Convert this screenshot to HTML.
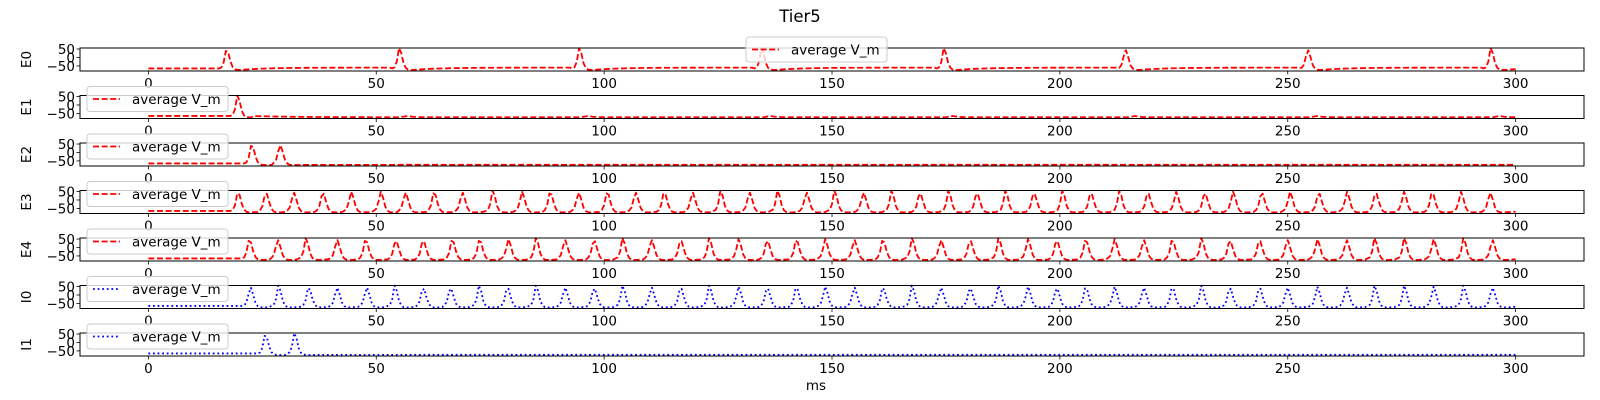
<!DOCTYPE html>
<html><head><meta charset="utf-8"><style>
html,body{margin:0;padding:0;background:#fff;}
svg{display:block;font-family:"DejaVu Sans","Liberation Sans",sans-serif;}
</style></head><body>
<svg id="fig" width="1600" height="400" viewBox="0 0 1600 400">
<text x="800" y="22" text-anchor="middle" font-size="16.5">Tier5</text>
<text x="816" y="390" text-anchor="middle" font-size="13.5">ms</text>
</svg>
<script>
const panelNames = ["E0","E1","E2","E3","E4","I0","I1"];
const panelColors = ["red","red","red","red","red","blue","blue"];
const xTicks = [0,50,100,150,200,250,300];
const yTicks = [50,0,-50];
const spikesE0 = [17.1,55,94.5,134.5,174.5,214.3,254.3,294.5];
const spikesE1 = [19.5];
const bumpsE1 = [56.4,96,136,176,216,256,296];
const spikesE2 = [22.6,28.8];
const spikesE3 = [19.6,25.7,31.8,38.2,44.4,50.9,56.3,62.6,68.8,75.5,81.9,88.1,94.3,100.6,106.8,113.1,119.3,125.5,131.8,138.0,144.3,150.5,156.8,163.0,169.2,175.5,181.7,188.0,194.2,200.5,206.7,213.0,219.2,225.4,231.7,237.9,244.2,250.4,256.7,262.9,269.2,275.4,281.6,287.9,294.3];
const spikesE4 = [22.1,28.3,34.5,41.3,47.6,54.2,60.2,66.6,72.6,78.9,85.0,91.3,97.7,104.0,110.3,116.7,123.0,129.4,135.7,142.1,148.4,154.8,161.1,167.5,173.8,180.2,186.5,192.9,199.2,205.6,211.9,218.3,224.6,231.0,237.2,243.7,249.8,256.4,262.8,269.0,275.5,281.9,288.5,294.8];
const spikesI0 = [22.3,28.5,35.1,41.3,47.8,54.0,60.2,66.2,72.5,78.7,85.0,91.3,97.7,104.0,110.3,116.7,123.0,129.4,135.7,142.1,148.4,154.8,161.1,167.5,173.8,180.2,186.5,192.9,199.2,205.6,211.9,218.3,224.6,231.0,237.2,243.7,249.8,256.4,262.8,269.0,275.5,281.9,288.5,294.8];
const spikesI1 = [25.6,32.0];
const spikeTimes = [spikesE0,spikesE1,spikesE2,spikesE3,spikesE4,spikesI0,spikesI1];
// spike waveform template (offset ms, mV)
const tplOffsets = [-1.5,-1,-0.5,0,0.5,1,1.5,2,3];
const tplValues  = [-63,-58,-25,55,25,-35,-62,-72,-74];
const restValue = -65;

const NS="http://www.w3.org/2000/svg";
const svg=document.getElementById("fig");
const AX_L=80, AX_R=1584, AX_H=23, TOP0=48, STEP=47.5;
const xMin=-15,xMax=315,yMin=-80,yMax=56;
function xs(t){return AX_L+(t-xMin)/(xMax-xMin)*(AX_R-AX_L);}
function mk(tag,attrs){const e=document.createElementNS(NS,tag);for(const k in attrs)e.setAttribute(k,attrs[k]);return e;}

function voltage(i,t){
  const sp=spikeTimes[i];
  let last=null;
  for(const s of sp){ if(s-1.5<=t) last=s; }
  for(const s of sp){ const d=t-s; if(d>=tplOffsets[0]&&d<0){ return interpT(d, last!==null&&t-last>3?recover(t-last,i):restValue); } }
  if(last===null) return restValue;
  const d=t-last;
  let v;
  if(d<=3) v=interpT(d,null); else v=recover(d,i);
  if(i===1){ for(const b of bumpsE1){const db=t-b; if(db>-1&&db<4) v+=8*Math.exp(-Math.abs(db-0.5)/1.2);} }
  return v;
}
function recover(d,i){
  const lim = (i===1||i===2||i===6)? -73 : -60;
  if(i===1) return -65 - 8*(1-Math.exp(-(d-3)/10));
  if(i===2||i===6) return -74 + 1*(1-Math.exp(-(d-3)/10));
  return -74 + (lim+74)*(1-Math.exp(-(d-3)/6));
}
function interpT(d,base){
  for(let k=0;k<tplOffsets.length-1;k++){
    if(d>=tplOffsets[k]&&d<=tplOffsets[k+1]){
      const a=tplOffsets[k],b=tplOffsets[k+1];
      let va=tplValues[k],vb=tplValues[k+1];
      if(k===0&&base!==null) va=base;
      return va+(vb-va)*(d-a)/(b-a);
    }
  }
  return tplValues[tplValues.length-1];
}

panelNames.forEach((name,i)=>{
  const top=TOP0+i*STEP, bot=top+AX_H;
  const ys=v=>bot-(v-yMin)/(yMax-yMin)*AX_H;
  const g=mk("g",{});
  
  
  svg.appendChild(g);
  let pts=[];
  for(let t=0;t<=300;t+=0.5){pts.push(xs(t).toFixed(2)+","+ys(voltage(i,t)).toFixed(2));}
  const line=mk("polyline",{points:pts.join(" "),fill:"none",stroke:panelColors[i],"stroke-width":1.8,
    "stroke-dasharray":panelColors[i]==="red"?"6,2.6":"1.8,2.8","stroke-linejoin":"round"});
  
  
  g.appendChild(line);
  const frame=mk("rect",{x:AX_L,y:top,width:AX_R-AX_L,height:AX_H,fill:"none",stroke:"#000","stroke-width":1});
  
  
  g.appendChild(frame);
  xTicks.forEach(v=>{
    const x=xs(v);
    g.appendChild(mk("line",{x1:x,x2:x,y1:bot,y2:bot+3.5,stroke:"#000","stroke-width":0.8}));
    const tx=mk("text",{x:x,y:bot+17,"text-anchor":"middle","font-size":13.5});
    tx.textContent=v;
    
    
    g.appendChild(tx);
  });
  yTicks.forEach(v=>{
    const y=ys(v);
    g.appendChild(mk("line",{x1:AX_L-3.5,x2:AX_L,y1:y,y2:y,stroke:"#000","stroke-width":0.8}));
    const tx=mk("text",{x:AX_L-5,y:y+5,"text-anchor":"end","font-size":13.5});
    tx.textContent=v<0?"\u2212"+Math.abs(v):String(v);
    
    
    g.appendChild(tx);
  });
  const yl=mk("text",{x:0,y:0,"text-anchor":"middle","font-size":13.5,transform:`translate(31,${top+AX_H/2}) rotate(-90)`});
  yl.textContent=name;
  
  
  g.appendChild(yl);
  const lx = i===0?746:87, ly = i===0?37:top-9;
  const lg=mk("g",{});
  
  
  lg.appendChild(mk("rect",{x:lx,y:ly,width:141,height:25,rx:3,fill:"#fff","fill-opacity":0.8,stroke:"#ccc","stroke-width":1}));
  lg.appendChild(mk("line",{x1:lx+6,x2:lx+33,y1:ly+12.5,y2:ly+12.5,stroke:panelColors[i],"stroke-width":1.8,
    "stroke-dasharray":panelColors[i]==="red"?"6,2.6":"1.8,2.8"}));
  const lt=mk("text",{x:lx+45,y:ly+17.5,"font-size":13.5});
  lt.textContent="average V_m";
  lg.appendChild(lt);
  g.appendChild(lg);
});
</script>
</body></html>
